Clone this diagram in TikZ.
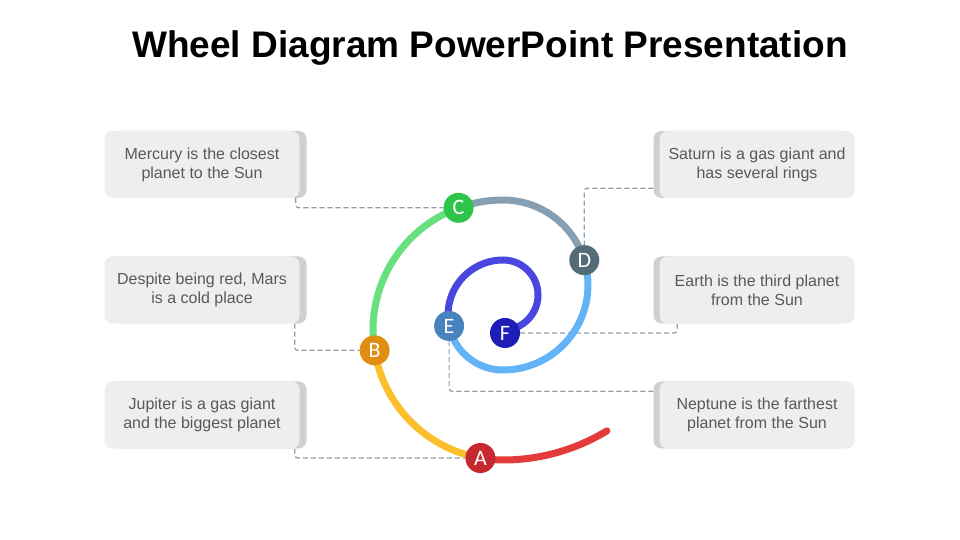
\documentclass[tikz,border=0pt]{standalone}
\usepackage{fontspec}
\setmainfont{Liberation Sans}
\newfontfamily\dotfont{Carlito}
\usetikzlibrary{shadows,backgrounds}
\definecolor{boxgray}{HTML}{EEEEEE}
\definecolor{stripgray}{HTML}{D0D0D0}
\definecolor{textgray}{HTML}{595959}
\definecolor{linkgray}{HTML}{8C9DAA}
\definecolor{segred}{HTML}{E53A3A}
\definecolor{segyellow}{HTML}{FBBF2C}
\definecolor{seggreen}{HTML}{68E07E}
\definecolor{seggray}{HTML}{879FB3}
\definecolor{segblue}{HTML}{62B4F7}
\definecolor{segindigo}{HTML}{4A47E0}
\definecolor{dotA}{HTML}{C62A30}
\definecolor{dotB}{HTML}{E08E12}
\definecolor{dotC}{HTML}{2EC449}
\definecolor{dotD}{HTML}{536C78}
\definecolor{dotE}{HTML}{4883BD}
\definecolor{dotF}{HTML}{1E1DB6}

\begin{document}
\begin{tikzpicture}[x=1pt,y=1pt]
\tikzset{box/.style={rectangle,rounded corners=8pt,fill=boxgray,minimum width=195pt,minimum height=67pt,align=center,text=textgray,font=\fontsize{16}{19}\selectfont}}
\tikzset{lbox/.style={box,drop shadow={shadow xshift=7pt,shadow yshift=0pt,opacity=1,fill=stripgray}}}
\tikzset{rbox/.style={box,drop shadow={shadow xshift=-6pt,shadow yshift=0pt,opacity=1,fill=stripgray}}}
\tikzset{dot/.style={circle,fill=#1,minimum size=30pt,inner sep=0pt,text=white,font=\dotfont\fontsize{22}{22}\selectfont}}
\tikzset{seg/.style={draw=#1,line width=7pt}}
\tikzset{link/.style={draw=linkgray,line width=1.2pt,dash pattern=on 5pt off 3pt,rounded corners=3pt}}
\useasboundingbox (0,0) rectangle (960,540);
\node[font=\bfseries\fontsize{37}{37}\selectfont,anchor=base] (title) at (490,482.7) {Wheel Diagram PowerPoint Presentation};
% boxes
\node[lbox] (mercury) at (202,375.5) {Mercury is the closest\\planet to the Sun};
\node[lbox] (mars) at (202,250) {Despite being red, Mars\\is a cold place};
\node[lbox] (jupiter) at (202,125) {Jupiter is a gas giant\\and the biggest planet};
\node[rbox] (saturn) at (757,375.5) {Saturn is a gas giant and\\has several rings};
\node[rbox] (earth) at (757,250) {Earth is the third planet\\from the Sun};
\node[rbox] (neptune) at (757,125) {Neptune is the farthest\\planet from the Sun};
% spiral
\coordinate (c1) at (503,210);
\coordinate (c2) at (503,255);
\coordinate (c3) at (503,225);
\coordinate (c4) at (503,245);
\node[dot=dotA] (A) at ([shift={(260:130pt)}]c1) {A};
\node[dot=dotB] (B) at ([shift={(189:130pt)}]c1) {B};
\node[dot=dotC] (C) at ([shift={(110:130pt)}]c1) {C};
\node[dot=dotD] (D) at ([shift={(17:85pt)}]c2) {D};
\node[dot=dotE] (E) at ([shift={(191.5:55pt)}]c3) {E};
\node[dot=dotF] (F) at (505,207) {F};
\begin{scope}[on background layer]
\draw[link] ([xshift=-4pt]mercury.south east) |- (C);
\draw[link] ([xshift=-5pt]mars.south east) |- (B);
\draw[link] ([xshift=-5pt]jupiter.south east) |- (A);
\draw[link] ([xshift=-6pt,yshift=10pt]saturn.south west) -| (D);
\draw[link] (F) -| ([xshift=18pt]earth.south west);
\draw[link] (E) |- ([xshift=-6pt,yshift=-10pt]neptune.north west);
\draw[seg=segred,line cap=round] (A.center) arc[start angle=260,end angle=270,radius=130pt] arc[start angle=-90,end angle=-58.7,radius=200pt];
\draw[seg=segyellow] (A.center) arc[start angle=260,end angle=189,radius=130pt];
\draw[seg=seggreen] (B.center) arc[start angle=189,end angle=110,radius=130pt];
\draw[seg=seggray] (C.center) arc[start angle=110,end angle=90,radius=130pt] arc[start angle=90,end angle=17,radius=85pt];
\draw[seg=segblue] (D.center) arc[start angle=17,end angle=-90,radius=85pt] arc[start angle=270,end angle=191.5,radius=55pt];
\draw[seg=segindigo] (E.center) arc[start angle=191.5,end angle=90,radius=55pt] arc[start angle=90,end angle=-90,radius=35pt];
\end{scope}
\end{tikzpicture}
\end{document}
